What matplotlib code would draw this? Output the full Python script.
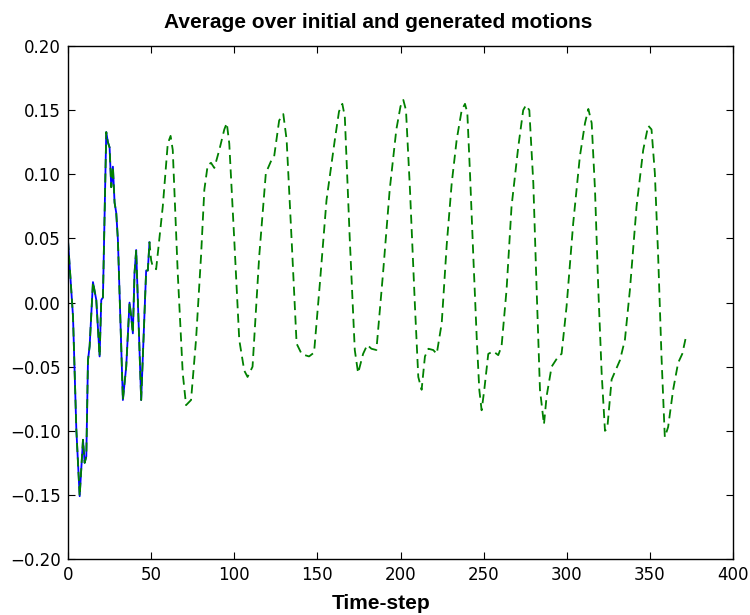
import matplotlib
matplotlib.use("Agg")
import matplotlib.pyplot as plt

# initial motion (blue)
init_t = [0, 3, 5, 7, 9, 10, 11, 12, 13, 15, 17, 19, 20, 21, 23, 24, 25, 26,
          27, 28, 29, 30, 33, 35, 37, 38, 39, 40, 41, 44, 47, 48, 49]
init_v = [0.048, -0.011, -0.099, -0.151, -0.107, -0.125, -0.120, -0.045, -0.034,
          0.016, 0.002, -0.042, 0.002, 0.004, 0.133, 0.125, 0.121, 0.090, 0.106,
          0.078, 0.070, 0.049, -0.076, -0.050, 0.000, -0.011, -0.024, 0.023, 0.041,
          -0.076, 0.025, 0.025, 0.047]

# generated continuation (green dashed, drawn from t=0 together with the initial part)
gen_t = [50, 51, 53, 57, 60, 61.7, 63, 66, 69, 71, 74, 77, 80, 82, 84, 86, 88, 91,
         94, 95.5, 97, 100, 103, 106, 108, 111, 115, 119, 122, 124, 127, 129.5,
         131.5, 134.5, 137.5, 140.5, 142.5, 145, 148, 151.5, 155.5, 160.5, 163, 165,
         166.5, 169.5, 172.5, 174.5, 177.5, 180, 182.5, 185.5, 189.5, 193.5, 197.5,
         200, 201.7, 203.3, 205.7, 208.7, 210.7, 212.7, 214.7, 216.8, 219.7, 221.8,
         224.8, 227.8, 230.8, 233.8, 236.8, 238.8, 240.2, 241.8, 243.8, 245.9, 247.4,
         248.8, 250.4, 252.8, 255.8, 258.8, 260.8, 263.8, 266.8, 270.8, 273.8, 275.5,
         277.5, 279.9, 281.9, 283.9, 286.3, 287.9, 290.9, 294.9, 296.9, 299.9, 303.9,
         307.9, 311, 313, 315, 317, 319, 321, 323, 324.4, 327, 332, 335, 338, 342,
         346, 349, 351, 353, 355, 357, 359, 361, 364, 367, 369.5, 371.5]
gen_v = [0.033, 0.028, 0.026, 0.075, 0.124, 0.130, 0.119, 0.023, -0.055, -0.080,
         -0.076, -0.029, 0.036, 0.088, 0.107, 0.109, 0.105, 0.119, 0.135, 0.140,
         0.124, 0.049, -0.029, -0.053, -0.058, -0.050, 0.036, 0.101, 0.110, 0.114,
         0.142, 0.147, 0.127, 0.049, -0.032, -0.040, -0.041, -0.042, -0.039, 0.015,
         0.080, 0.127, 0.149, 0.155, 0.145, 0.049, -0.037, -0.055, -0.040, -0.033,
         -0.036, -0.037, 0.023, 0.088, 0.135, 0.153, 0.158, 0.150, 0.088, -0.003,
         -0.058, -0.068, -0.042, -0.036, -0.037, -0.040, -0.016, 0.045, 0.093, 0.127,
         0.150, 0.155, 0.148, 0.101, 0.036, -0.029, -0.068, -0.084, -0.068, -0.040,
         -0.038, -0.041, -0.034, 0.010, 0.075, 0.121, 0.150, 0.154, 0.150, 0.093,
         0.010, -0.068, -0.095, -0.073, -0.050, -0.042, -0.040, -0.003, 0.062, 0.114,
         0.140, 0.151, 0.140, 0.088, 0.010, -0.055, -0.100, -0.098, -0.060, -0.045,
         -0.029, 0.010, 0.075, 0.119, 0.138, 0.135, 0.101, 0.036, -0.042, -0.105,
         -0.097, -0.068, -0.047, -0.040, -0.028]

y_ticks = [-0.2, -0.15, -0.1, -0.05, 0.0, 0.05, 0.1, 0.15, 0.2]

title_font = {"family": ["Liberation Sans", "DejaVu Sans"], "weight": "bold"}

fig = plt.figure(figsize=(7.5, 6.15), dpi=100)
ax = fig.add_axes([0.0907, 0.091, 0.8866, 0.834])

ax.plot(init_t, init_v, color="b", linewidth=1.3)
ax.plot(init_t + gen_t, init_v + gen_v, color="g", linewidth=1.3,
        linestyle="--", dashes=(5, 3))

ax.set_xlim(0, 400)
ax.set_ylim(-0.2, 0.2)
ax.set_xticks(range(0, 401, 50))
ax.set_yticks(y_ticks)
ax.set_yticklabels([("%.2f" % v).replace("-", "\u2212") for v in y_ticks])
ax.tick_params(direction="in", top=True, right=True, labelsize=12, length=5, pad=5)
for s in ax.spines.values():
    s.set_linewidth(1.0)

ax.set_title("Average over initial and generated motions", fontsize=15, x=0.466,
             pad=13, **title_font)
ax.set_xlabel("Time-step", fontsize=15, labelpad=7, x=0.471, **title_font)

fig.savefig("out.png", dpi=100, facecolor="white")
